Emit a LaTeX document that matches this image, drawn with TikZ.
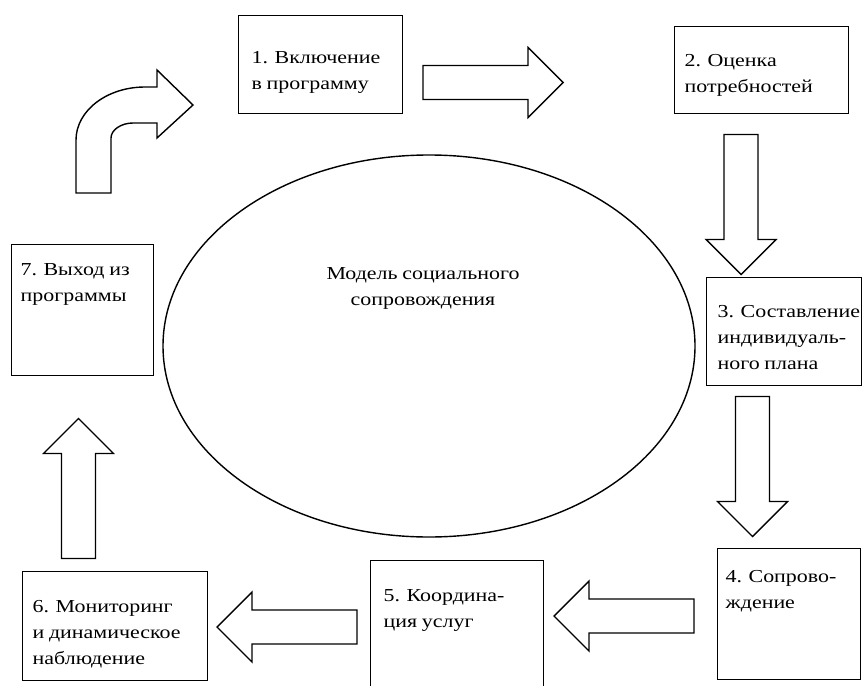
\documentclass[tikz,border=0pt]{standalone}
\usepackage{fontspec}
\setmainfont[FakeStretch=1.2,WordSpace=0.85]{Liberation Serif}
\usetikzlibrary{shapes.geometric}

\begin{document}
\begin{tikzpicture}[x=0.25mm,y=-0.25mm,line width=1pt]

\tikzset{
    stage/.style={draw,anchor=north west,inner sep=0pt},
    stagetext/.style={anchor=north west,inner sep=0pt,align=left,font=\fontsize{13}{18.5}\selectfont},
    pics/fatarrow/.style={code={
        \draw (-70,-17) -- (35,-17) -- (35,-35) -- (70,0) -- (35,35) -- (35,17) -- (-70,17) -- cycle;
    }}
}
% frame
\useasboundingbox (0,0) rectangle (864,686);
\clip (0,0) rectangle (864,686);

% ----------- stages ----------- %
\node[stage,minimum width=41mm,minimum height=24.5mm] (s1) at (238,15) {};
\node[stage,minimum width=43.5mm,minimum height=21.75mm] (s2) at (674,26) {};
\node[stage,minimum width=38.75mm,minimum height=27mm] (s3) at (706,277) {};
\node[stage,minimum width=35.75mm,minimum height=32.75mm] (s4) at (717,548) {};
\node[stage,minimum width=43.25mm,minimum height=40mm] (s5) at (370,560) {};
\node[stage,minimum width=46.25mm,minimum height=27.25mm] (s6) at (22,571) {};
\node[stage,minimum width=35.5mm,minimum height=32.75mm] (s7) at (11,244) {};

\node[stagetext] (t1) at (251,51) {1. Включение\\в программу};
\node[stagetext] (t2) at (684,54) {2. Оценка\\потребностей};
\node[stagetext] (t3) at (717,305) {3. Составление\\индивидуаль-\\ного плана};
\node[stagetext] (t4) at (725,570) {4. Сопрово-\\ждение};
\node[stagetext] (t5) at (383,589) {5. Координа-\\ция услуг};
\node[stagetext] (t6) at (32,600) {6. Мониторинг\\и динамическое\\наблюдение};
\node[stagetext] (t7) at (20,263) {7. Выход из\\программы};

% ------------ model ---------%
\node[draw,ellipse,inner sep=0pt,minimum width=133mm,minimum height=95.5mm] (model) at (429,346) {};
\node[stagetext,anchor=north,align=center] (modeltext) at (423,267) {Модель социального\\сопровождения};

% straight arrows
\pic (a12) at (493,82.5) {fatarrow};
\pic[rotate=-90] (a23) at (741,204.5) {fatarrow};
\pic[rotate=-90] (a34) at (752.5,466.5) {fatarrow};
\pic[rotate=180] (a45) at (624,616) {fatarrow};
\pic[rotate=180] (a56) at (287,627) {fatarrow};
\pic[rotate=90] (a67) at (78.5,488.5) {fatarrow};

% bent arrow
\draw (76,193) -- (76,140) .. controls (76,110.7) and (106.9,87) .. (145,87) -- (157,87)
    -- (157,70) -- (193,105) -- (157,138) -- (157,123) -- (133,123)
    .. controls (121,123) and (111,130) .. (111,138) -- (111,193) -- cycle;

\end{tikzpicture}
\end{document}
